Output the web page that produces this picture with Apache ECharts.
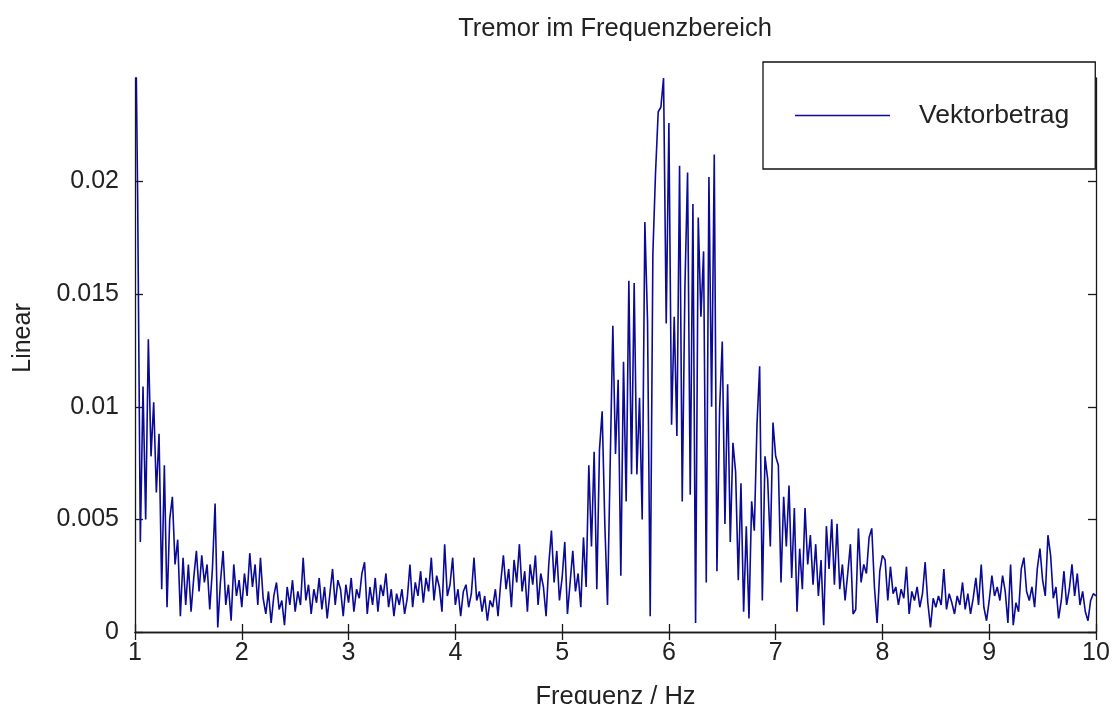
<!DOCTYPE html>
<html>
<head>
<meta charset="utf-8">
<script src="https://cdn.jsdelivr.net/npm/echarts@6/dist/echarts.min.js"></script>
<style>
html,body{margin:0;padding:0;background:#fff;}
#chart{width:1113px;height:704px;}
</style>
</head>
<body>
<div id="chart"></div>
<script>
// Frequency sampling (Hz): regular grid from 1 to 10
const freqStart = 1.0;
const freqStep = 0.025;

// Amplitude ("Vektorbetrag"), one row = 0.25 Hz
const amplitude = [
  0.0300,0.0192,0.0040,0.0109,0.0050,0.0130,0.0078,0.0102,0.0062,0.0088, // 1.00
  0.0019,0.0074,0.0011,0.0050,0.0060,0.0030,0.0041,0.0007,0.0033,0.0012, // 1.25
  0.0030,0.0009,0.0024,0.0036,0.0018,0.0034,0.0022,0.0030,0.0010,0.0028, // 1.50
  0.0057,0.0002,0.0022,0.0036,0.0012,0.0021,0.0005,0.0030,0.0016,0.0023, // 1.75
  0.0011,0.0026,0.0016,0.0035,0.0020,0.0030,0.0012,0.0033,0.0015,0.0008, // 2.00
  0.0018,0.0004,0.0016,0.0022,0.0010,0.0014,0.0003,0.0020,0.0012,0.0023, // 2.25
  0.0009,0.0018,0.0012,0.0033,0.0014,0.0021,0.0008,0.0019,0.0013,0.0024, // 2.50
  0.0010,0.0020,0.0006,0.0017,0.0028,0.0012,0.0023,0.0019,0.0007,0.0021, // 2.75
  0.0013,0.0024,0.0009,0.0019,0.0015,0.0026,0.0031,0.0008,0.0020,0.0012, // 3.00
  0.0024,0.0009,0.0021,0.0016,0.0026,0.0011,0.0019,0.0007,0.0017,0.0012, // 3.25
  0.0019,0.0008,0.0015,0.0030,0.0011,0.0022,0.0016,0.0027,0.0013,0.0024, // 3.50
  0.0018,0.0033,0.0014,0.0025,0.0020,0.0009,0.0039,0.0016,0.0021,0.0033, // 3.75
  0.0012,0.0019,0.0007,0.0018,0.0021,0.0011,0.0017,0.0033,0.0014,0.0018, // 4.00
  0.0009,0.0016,0.0005,0.0014,0.0011,0.0019,0.0007,0.0022,0.0034,0.0019, // 4.25
  0.0028,0.0011,0.0032,0.0022,0.0039,0.0018,0.0027,0.0009,0.0030,0.0021, // 4.50
  0.0034,0.0012,0.0026,0.0020,0.0007,0.0030,0.0045,0.0022,0.0036,0.0014, // 4.75
  0.0024,0.0040,0.0008,0.0022,0.0036,0.0018,0.0026,0.0011,0.0042,0.0020, // 5.00
  0.0074,0.0038,0.0080,0.0019,0.0081,0.0098,0.0048,0.0012,0.0074,0.0136, // 5.25
  0.0079,0.0112,0.0025,0.0120,0.0058,0.0156,0.0070,0.0155,0.0070,0.0104, // 5.50
  0.0050,0.0182,0.0138,0.0007,0.0168,0.0204,0.0231,0.0233,0.0246,0.0137, // 5.75
  0.0226,0.0092,0.0140,0.0087,0.0207,0.0058,0.0153,0.0204,0.0061,0.0190, // 6.00
  0.0004,0.0184,0.0140,0.0169,0.0022,0.0202,0.0100,0.0212,0.0027,0.0099, // 6.25
  0.0129,0.0048,0.0110,0.0040,0.0084,0.0071,0.0023,0.0066,0.0009,0.0047, // 6.50
  0.0006,0.0058,0.0045,0.0092,0.0118,0.0014,0.0078,0.0068,0.0038,0.0093, // 6.75
  0.0078,0.0074,0.0022,0.0060,0.0038,0.0065,0.0024,0.0055,0.0009,0.0037, // 7.00
  0.0019,0.0055,0.0030,0.0043,0.0021,0.0039,0.0016,0.0032,0.0003,0.0047, // 7.25
  0.0028,0.0050,0.0021,0.0048,0.0019,0.0030,0.0014,0.0026,0.0039,0.0008, // 7.50
  0.0010,0.0046,0.0022,0.0030,0.0026,0.0042,0.0046,0.0020,0.0004,0.0027, // 7.75
  0.0034,0.0032,0.0014,0.0029,0.0017,0.0020,0.0012,0.0019,0.0015,0.0029, // 8.00
  0.0008,0.0018,0.0014,0.0020,0.0011,0.0017,0.0031,0.0013,0.0002,0.0015, // 8.25
  0.0011,0.0016,0.0012,0.0028,0.0010,0.0017,0.0013,0.0008,0.0016,0.0012, // 8.50
  0.0022,0.0010,0.0017,0.0008,0.0015,0.0024,0.0012,0.0030,0.0011,0.0005, // 8.75
  0.0014,0.0025,0.0016,0.0020,0.0014,0.0025,0.0018,0.0004,0.0030,0.0003, // 9.00
  0.0013,0.0009,0.0028,0.0033,0.0018,0.0014,0.0020,0.0011,0.0028,0.0037, // 9.25
  0.0023,0.0016,0.0043,0.0034,0.0015,0.0020,0.0006,0.0014,0.0027,0.0012, // 9.50
  0.0019,0.0030,0.0016,0.0026,0.0012,0.0018,0.0009,0.0005,0.0014,0.0017, // 9.75
  0.0016                                                                   // 10.00
];

const xTicks = [1, 2, 3, 4, 5, 6, 7, 8, 9, 10];
const yTicks = [0, 0.005, 0.01, 0.015, 0.02];

const titleText = 'Tremor im Frequenzbereich';
const seriesName = 'Vektorbetrag';
const xName = 'Frequenz / Hz';
const yName = 'Linear';

const points = amplitude.map((v, i) => [+(freqStart + i * freqStep).toFixed(3), v]);

const FONT = "'Liberation Sans', Arial, sans-serif";
const lineColor = '#0a0a96';
const axisColor = '#1a1a1a';

const chart = echarts.init(document.getElementById('chart'), null, {renderer: 'canvas'});

const axisCommon = {
  axisLine: {show: true, lineStyle: {color: axisColor, width: 1.3}},
  axisTick: {show: true, inside: true, length: 8, lineStyle: {color: axisColor, width: 1.3}},
  splitLine: {show: false}
};

chart.setOption({
  animation: false,
  backgroundColor: '#ffffff',
  title: {
    text: titleText,
    left: 615,
    top: 16,
    padding: 0,
    textAlign: 'center',
    textStyle: {fontFamily: FONT, fontSize: 25.5, fontWeight: 'normal', color: '#222'}
  },
  legend: {
    data: [{name: seriesName, icon: 'rect'}],
    left: 763,
    top: 62,
    orient: 'horizontal',
    padding: [40, 26, 40, 32],
    backgroundColor: '#ffffff',
    borderColor: '#111',
    borderWidth: 1.3,
    borderRadius: 0,
    itemWidth: 95,
    itemHeight: 1.6,
    itemStyle: {color: lineColor},
    lineStyle: {color: lineColor, width: 1.6},
    textStyle: {fontFamily: FONT, fontSize: 26.5, color: '#222', padding: [0, 0, 0, 24]},
    z: 10
  },
  grid: {left: 135, right: 17, top: 78, bottom: 72, containLabel: false, outerBoundsMode: 'none'},
  xAxis: [
    Object.assign({
      type: 'value', min: xTicks[0], max: xTicks[xTicks.length - 1], interval: 1,
      position: 'bottom',
      name: xName, nameLocation: 'middle', nameGap: 52,
      nameTextStyle: {fontFamily: FONT, fontSize: 25.5, color: '#222'},
      axisLabel: {show: true, margin: 9, fontFamily: FONT, fontSize: 25, color: '#222'}
    }, axisCommon),
    Object.assign({
      type: 'value', min: xTicks[0], max: xTicks[xTicks.length - 1], interval: 1,
      position: 'top', axisLabel: {show: false}
    }, axisCommon)
  ],
  yAxis: [
    Object.assign({
      type: 'value', min: yTicks[0], max: 0.0246, interval: 0.005,
      position: 'left',
      name: yName, nameLocation: 'middle', nameGap: 99,
      nameTextStyle: {fontFamily: FONT, fontSize: 25, color: '#222', padding: [0, 0, 0, 34]},
      axisLabel: {show: true, margin: 16, fontFamily: FONT, fontSize: 25, color: '#222',
        showMaxLabel: false,
        formatter: v => (yTicks.some(t => Math.abs(t - v) < 1e-9) ? String(+v.toFixed(4)) : '')}
    }, axisCommon),
    Object.assign({
      type: 'value', min: yTicks[0], max: 0.0246, interval: 0.005,
      position: 'right', axisLabel: {show: false}
    }, axisCommon)
  ],
  series: [{
    name: seriesName,
    type: 'line',
    xAxisIndex: 0,
    yAxisIndex: 0,
    data: points,
    symbol: 'none',
    showSymbol: false,
    clip: true,
    sampling: null,
    lineStyle: {color: lineColor, width: 1.6},
    itemStyle: {color: lineColor},
    z: 2
  }]
});
</script>
</body>
</html>
